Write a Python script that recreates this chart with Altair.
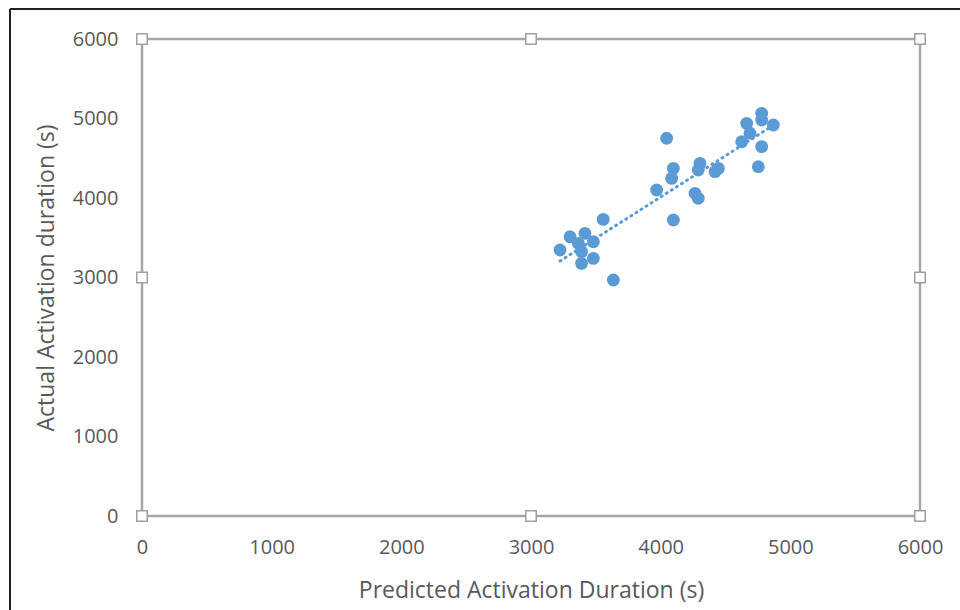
import altair as alt
import pandas as pd

predicted = [4046, 4779, 4663, 4869, 4689, 4625, 4779, 4753, 4779,
             4098, 4085, 3969, 4303, 4290, 4445, 4419, 4265, 4290, 4098,
             3557, 3301, 3224, 3416, 3481, 3365, 3390, 3481, 3390, 3635]
actual = [4751, 5065, 4939, 4918, 4814, 4708, 4646, 4394, 4981,
          4373, 4247, 4101, 4436, 4352, 4373, 4331, 4059, 3996, 3723,
          3731, 3513, 3346, 3555, 3450, 3430, 3325, 3241, 3178, 2969]

handle_x = [0, 3000, 6000, 0, 6000, 0, 3000, 6000]
handle_y = [0, 0, 0, 3000, 3000, 6000, 6000, 6000]

df = pd.DataFrame({"pred": predicted, "act": actual})
hdf = pd.DataFrame({"hx": handle_x, "hy": handle_y})

FONT = "Open Sans"
GRAY = "#595959"
BLUE = "#5B9BD5"

xscale = alt.Scale(domain=[0, 6000])
yscale = alt.Scale(domain=[0, 6000])

xenc = alt.X("pred:Q", scale=xscale,
             axis=alt.Axis(values=[0, 1000, 2000, 3000, 4000, 5000, 6000],
                           format="d", labelFlush=False,
                           title="Predicted Activation Duration (s)",
                           grid=False, ticks=False, domain=False,
                           labelPadding=21, titlePadding=22,
                           labelFontSize=20, titleFontSize=23,
                           labelFont=FONT, titleFont=FONT,
                           labelColor=GRAY, titleColor=GRAY,
                           titleFontWeight="normal"))
yenc = alt.Y("act:Q", scale=yscale,
             axis=alt.Axis(values=[0, 1000, 2000, 3000, 4000, 5000, 6000],
                           format="d", labelFlush=False,
                           title="Actual Activation duration (s)",
                           grid=False, ticks=False, domain=False,
                           labelPadding=24, titlePadding=14,
                           labelFontSize=20, titleFontSize=23,
                           labelFont=FONT, titleFont=FONT,
                           labelColor=GRAY, titleColor=GRAY,
                           titleFontWeight="normal"))

points = alt.Chart(df).mark_circle(size=165, color=BLUE, opacity=1).encode(x=xenc, y=yenc)

trend = alt.Chart(df).transform_regression("pred", "act").mark_line(
    color=BLUE, strokeWidth=3, strokeDash=[1, 5], strokeCap="round"
).encode(x=alt.X("pred:Q", scale=xscale), y=alt.Y("act:Q", scale=yscale))

handles = alt.Chart(hdf).mark_square(size=110, fill="white", stroke="#A0A0A0",
                                      strokeWidth=1.5, opacity=1, clip=False).encode(
    x=alt.X("hx:Q", scale=xscale), y=alt.Y("hy:Q", scale=yscale))

frame_left = alt.Chart(hdf).mark_rule(color="#222222", strokeWidth=2, clip=False).encode(
    x=alt.value(-132), y=alt.value(-30), y2=alt.value(600))
frame_top = alt.Chart(hdf).mark_rule(color="#222222", strokeWidth=2, clip=False).encode(
    x=alt.value(-132), x2=alt.value(840), y=alt.value(-30))

chart = alt.layer(frame_left, frame_top, trend, points, handles).properties(
    width=778, height=477,
    autosize=alt.AutoSizeParams(type="none"),
    padding={"left": 142, "top": 39, "right": 40, "bottom": 94},
    background="white",
).configure_view(stroke="#A6A6A6", strokeWidth=2.5)

chart.save("out.html", embed_options={"renderer": "svg", "actions": False})
